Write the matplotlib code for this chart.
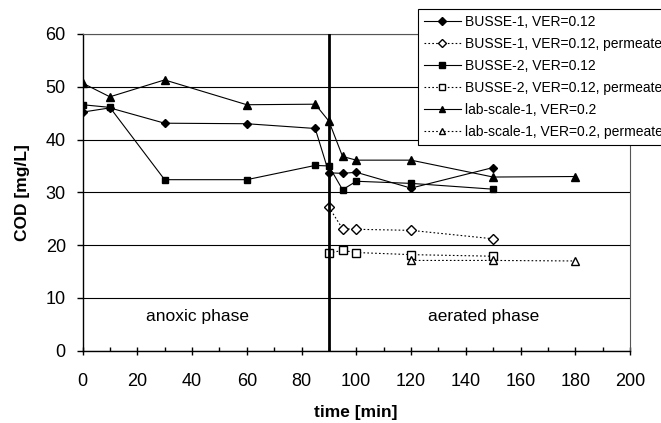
import matplotlib
matplotlib.use("Agg")
import matplotlib.pyplot as plt
from matplotlib.ticker import MultipleLocator

plt.rcParams['font.family'] = ['Liberation Sans', 'DejaVu Sans']

b1_t = [0, 10, 30, 60, 85, 90, 95, 100, 120, 150]
b1_v = [45.2, 46.0, 43.1, 43.0, 42.1, 33.7, 33.6, 33.8, 30.8, 34.7]
b1p_t = [90, 95, 100, 120, 150]
b1p_v = [27.2, 23.1, 23.0, 22.8, 21.2]
b2_t = [0, 10, 30, 60, 85, 90, 95, 100, 120, 150]
b2_v = [46.6, 46.1, 32.4, 32.4, 35.1, 35.0, 30.5, 32.1, 31.7, 30.6]
b2p_t = [90, 95, 100, 120, 150]
b2p_v = [18.5, 19.0, 18.6, 18.2, 17.9]
ls_t = [0, 10, 30, 60, 85, 90, 95, 100, 120, 150, 180]
ls_v = [50.7, 48.1, 51.3, 46.6, 46.7, 43.5, 36.8, 36.1, 36.1, 32.9, 33.0]
lsp_t = [120, 150, 180]
lsp_v = [17.1, 17.1, 17.0]

labels = ["BUSSE-1, VER=0.12", "BUSSE-1, VER=0.12, permeate",
          "BUSSE-2, VER=0.12", "BUSSE-2, VER=0.12, permeate",
          "lab-scale-1, VER=0.2", "lab-scale-1, VER=0.2, permeate"]

fig = plt.figure(figsize=(6.61, 4.23), dpi=100)
ax = fig.add_axes([82.5/661, 1-350.7/423, (630-82.5)/661, (350.7-34)/423])

lw = 0.8
dot = (0, (1.5, 2.0))
ax.plot(b1_t, b1_v, '-', color='black', lw=lw, marker='D', ms=4.5, mfc='black', label=labels[0], zorder=3)
ax.plot(b1p_t, b1p_v, linestyle=dot, color='black', lw=lw, marker='D', ms=5, mfc='white', label=labels[1], zorder=3)
ax.plot(b2_t, b2_v, '-', color='black', lw=lw, marker='s', ms=5, mfc='black', label=labels[2], zorder=3)
ax.plot(b2p_t, b2p_v, linestyle=dot, color='black', lw=lw, marker='s', ms=5.5, mfc='white', label=labels[3], zorder=3)
ax.plot(ls_t, ls_v, '-', color='black', lw=lw, marker='^', ms=5.5, mfc='black', label=labels[4], zorder=3)
ax.plot(lsp_t, lsp_v, linestyle=dot, color='black', lw=lw, marker='^', ms=5.5, mfc='white', label=labels[5], zorder=3)

ax.axvline(90, color='black', lw=2, zorder=4)

ax.set_xlim(0, 200)
ax.set_ylim(0, 60)
ax.xaxis.set_major_locator(MultipleLocator(20))
ax.xaxis.set_minor_locator(MultipleLocator(10))
ax.yaxis.set_major_locator(MultipleLocator(10))
ax.grid(axis='y', color='black', lw=0.8)
ax.set_axisbelow(True)
for s in ['top', 'right']:
    ax.spines[s].set_color('#555555')
    ax.spines[s].set_linewidth(0.8)
for s in ['left', 'bottom']:
    ax.spines[s].set_linewidth(1.0)
ax.tick_params(axis='x', which='major', direction='inout', length=6, width=1, labelsize=13, pad=13)
ax.tick_params(axis='x', which='minor', direction='in', length=3, width=1)
ax.tick_params(axis='y', which='major', direction='out', length=4, width=1, labelsize=13, pad=8)

ax.set_xlabel("time [min]", fontsize=12.5, fontweight='bold')
ax.set_ylabel("COD [mg/L]", fontsize=12.5, fontweight='bold')
ax.xaxis.label.set_va('center')
ax.yaxis.label.set_va('center')
ax.xaxis.set_label_coords(0.5, (350.7-412)/316.7)
ax.yaxis.set_label_coords((23-82.5)/547.5, 0.5)

ax.text(42, 6.4, "anoxic phase", ha='center', va='center', fontsize=12.5)
ax.text(146.5, 6.4, "aerated phase", ha='center', va='center', fontsize=12.5)

leg = fig.legend(loc='upper left', bbox_to_anchor=(418/661, 1-9/423), fontsize=10,
                 frameon=True, fancybox=False, edgecolor='black', framealpha=1,
                 handlelength=2.66, handletextpad=0.3, labelspacing=0.58,
                 borderpad=0.42, borderaxespad=0, markerscale=0.85)
leg.get_frame().set_linewidth(0.8)

fig.savefig("out.png", dpi=100)
